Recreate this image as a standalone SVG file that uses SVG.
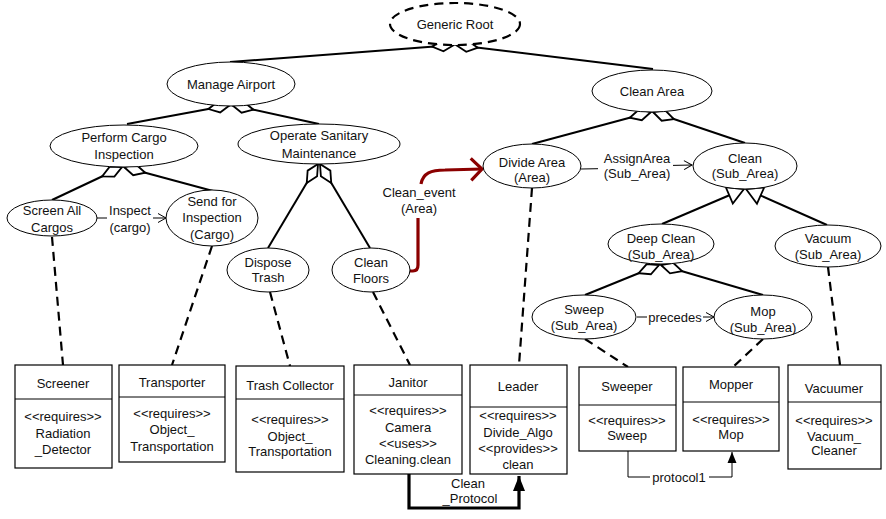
<svg xmlns="http://www.w3.org/2000/svg" width="886" height="519" viewBox="0 0 886 519">
<style>
text{font-family:"Liberation Sans",Arial,sans-serif;font-size:13px;fill:#111;text-anchor:middle}
.el{fill:#fff;stroke:#000;stroke-width:1}
.box{fill:#fff;stroke:#000;stroke-width:1.2}
.comp{fill:none;stroke:#000;stroke-width:2;marker-end:url(#dia)}
.gen{fill:none;stroke:#000;stroke-width:2;marker-end:url(#tri)}
.dash{fill:none;stroke:#000;stroke-width:2.2;stroke-dasharray:9 6}
.thin{fill:none;stroke:#000;stroke-width:1}
</style>
<defs>
<marker id="dia" markerUnits="userSpaceOnUse" viewBox="-24 -8 26 16" markerWidth="26" markerHeight="16" refX="0" refY="0" orient="auto" overflow="visible">
<path d="M0,0 L-11,-5.5 L-22,0 L-11,5.5 Z" fill="#fff" stroke="#000" stroke-width="1.8"/>
</marker>
<marker id="tri" markerUnits="userSpaceOnUse" viewBox="-18 -10 20 20" markerWidth="20" markerHeight="20" refX="0" refY="0" orient="auto" overflow="visible">
<path d="M0,0 L-16,-9 L-16,9 Z" fill="#fff" stroke="#000" stroke-width="1.8"/>
</marker>
<marker id="open" markerUnits="userSpaceOnUse" viewBox="-10 -6 12 12" markerWidth="12" markerHeight="12" refX="0" refY="0" orient="auto" overflow="visible">
<path d="M-8,-4.5 L0,0 L-8,4.5" fill="none" stroke="#000" stroke-width="1"/>
</marker>
<marker id="red" markerUnits="userSpaceOnUse" viewBox="-14 -12 16 24" markerWidth="16" markerHeight="24" refX="0" refY="0" orient="auto" overflow="visible">
<path d="M-11,-11 L0,0 L-11,11" fill="none" stroke="#8b0000" stroke-width="3.2"/>
</marker>
<marker id="fill" markerUnits="userSpaceOnUse" viewBox="-16 -7 18 14" markerWidth="18" markerHeight="14" refX="0" refY="0" orient="auto" overflow="visible">
<path d="M0,0 L-15,-6 L-15,6 Z" fill="#000"/>
</marker>
<marker id="fills" markerUnits="userSpaceOnUse" viewBox="-12 -6 14 12" markerWidth="14" markerHeight="12" refX="0" refY="0" orient="auto" overflow="visible">
<path d="M0,0 L-11,-4.5 L-11,4.5 Z" fill="#000"/>
</marker>
</defs>

<g id="connectors">
<path class="comp" d="M230,62 L454,45"/>
<path class="comp" d="M653,69 L456,45"/>
<path class="comp" d="M127,124 L230,105"/>
<path class="comp" d="M319,124 L232,105"/>
<path class="comp" d="M52,200 L122,167"/>
<path class="comp" d="M213,191 L124,167"/>
<path class="comp" d="M268,248 L318,164"/>
<path class="comp" d="M370,248 L320,164"/>
<path class="comp" d="M532,144 L651,112"/>
<path class="comp" d="M745,143 L653,112"/>
<path class="comp" d="M585,295 L659,265"/>
<path class="comp" d="M763,295 L661,265"/>
<path class="gen" d="M662,224 L744,189"/>
<path class="gen" d="M827,225 L746,189"/>

<path class="dash" d="M52,237 L63,365"/>
<path class="dash" d="M212,246 L172,365"/>
<path class="dash" d="M270,292 L290,366"/>
<path class="dash" d="M373,292 L410,365"/>
<path class="dash" d="M532,188 L519,365"/>
<path class="dash" d="M585,339 L628,367"/>
<path class="dash" d="M763,339 L733,367"/>
<path class="dash" d="M828,267 L840,365"/>

<path class="thin" d="M97,218 L107,218"/>
<path class="thin" d="M153,218 L166,218" marker-end="url(#open)"/>
<text x="130" y="215">Inspect</text>
<text x="130" y="232">(cargo)</text>

<path class="thin" d="M581,169 L598,168.7"/>
<path class="thin" d="M673,165.4 L692,165" marker-end="url(#open)"/>
<text x="637" y="163">AssignArea</text>
<text x="637" y="178">(Sub_Area)</text>

<path class="thin" d="M637,317 L647,317"/>
<path class="thin" d="M703,317 L714,317" marker-end="url(#open)"/>
<text x="675" y="322">precedes</text>

<path d="M410,271 L413,271 Q418,271 418,265 L418,218" fill="none" stroke="#8b0000" stroke-width="3.2"/>
<path d="M421,184 C423,173 431,170 445,170 L482,169" fill="none" stroke="#8b0000" stroke-width="3.2" marker-end="url(#red)"/>
<text x="419" y="197">Clean_event</text>
<text x="419" y="213">(Area)</text>

<path d="M409,474 L409,508 L519,508 L519,476" fill="none" stroke="#000" stroke-width="3.2" marker-end="url(#fill)"/>
<text x="468" y="488">Clean</text>
<text x="470" y="503">_Protocol</text>

<path class="thin" d="M628,451 L628,477 L650,477"/>
<path class="thin" d="M709,477 L732,477 L732,452" marker-end="url(#fills)"/>
<text x="679" y="482">protocol1</text>
</g>

<g id="generic-root">
<ellipse cx="455" cy="24" rx="65" ry="21" fill="#fff" stroke="#000" stroke-width="2.2" stroke-dasharray="9 6"/>
<text x="455" y="29">Generic Root</text>
</g>
<g id="manage-airport">
<ellipse class="el" cx="231" cy="84" rx="64" ry="22"/>
<text x="231" y="89">Manage Airport</text>
</g>
<g id="clean-area">
<ellipse class="el" cx="652" cy="91" rx="60" ry="21"/>
<text x="652" y="96">Clean Area</text>
</g>
<g id="perform-cargo">
<ellipse class="el" cx="124" cy="146" rx="74" ry="21"/>
<text x="124" y="142">Perform Cargo</text>
<text x="124" y="159">Inspection</text>
</g>
<g id="operate-sanitary">
<ellipse class="el" cx="319" cy="144" rx="81" ry="20"/>
<text x="319" y="140">Operate Sanitary</text>
<text x="319" y="158">Maintenance</text>
</g>
<g id="screen-all">
<ellipse class="el" cx="52" cy="218" rx="45" ry="18"/>
<text x="52" y="215">Screen All</text>
<text x="52" y="232">Cargos</text>
</g>
<g id="send-inspection">
<ellipse class="el" cx="212" cy="218" rx="46" ry="28"/>
<text x="212" y="206">Send for</text>
<text x="212" y="222">Inspection</text>
<text x="212" y="239">(Cargo)</text>
</g>
<g id="dispose-trash">
<ellipse class="el" cx="268" cy="270" rx="41" ry="22"/>
<text x="268" y="267">Dispose</text>
<text x="268" y="282">Trash</text>
</g>
<g id="clean-floors">
<ellipse class="el" cx="371" cy="270" rx="39" ry="22"/>
<text x="371" y="267">Clean</text>
<text x="371" y="283">Floors</text>
</g>
<g id="divide-area">
<ellipse class="el" cx="532" cy="166" rx="49" ry="22"/>
<text x="532" y="167">Divide Area</text>
<text x="532" y="182">(Area)</text>
</g>
<g id="clean-sub">
<ellipse class="el" cx="745" cy="166" rx="52" ry="23"/>
<text x="745" y="163">Clean</text>
<text x="745" y="178">(Sub_Area)</text>
</g>
<g id="deep-clean">
<ellipse class="el" cx="661" cy="244" rx="53" ry="20"/>
<text x="661" y="243">Deep Clean</text>
<text x="661" y="259">(Sub_Area)</text>
</g>
<g id="vacuum">
<ellipse class="el" cx="828" cy="246" rx="53" ry="21"/>
<text x="828" y="243">Vacuum</text>
<text x="828" y="259">(Sub_Area)</text>
</g>
<g id="sweep">
<ellipse class="el" cx="584" cy="317" rx="52" ry="22"/>
<text x="584" y="314">Sweep</text>
<text x="584" y="330">(Sub_Area)</text>
</g>
<g id="mop">
<ellipse class="el" cx="763" cy="317" rx="49" ry="22"/>
<text x="763" y="316">Mop</text>
<text x="763" y="332">(Sub_Area)</text>
</g>

<g id="screener">
<rect class="box" x="15" y="365" width="97" height="103"/>
<line class="thin" x1="15" y1="399" x2="112" y2="399"/>
<text x="63" y="388">Screener</text>
<text x="63" y="421">&lt;&lt;requires&gt;&gt;</text>
<text x="63" y="438">Radiation</text>
<text x="63" y="454">_Detector</text>
</g>
<g id="transporter">
<rect class="box" x="119" y="365" width="106" height="97"/>
<line class="thin" x1="119" y1="397" x2="225" y2="397"/>
<text x="172" y="387">Transporter</text>
<text x="172" y="418">&lt;&lt;requires&gt;&gt;</text>
<text x="172" y="434">Object_</text>
<text x="172" y="451">Transportation</text>
</g>
<g id="trash-collector">
<rect class="box" x="236" y="366" width="108" height="106"/>
<line class="thin" x1="236" y1="399" x2="344" y2="399"/>
<text x="290" y="390">Trash Collector</text>
<text x="290" y="424">&lt;&lt;requires&gt;&gt;</text>
<text x="290" y="441">Object_</text>
<text x="290" y="456">Transportation</text>
</g>
<g id="janitor">
<rect class="box" x="354" y="365" width="108" height="109"/>
<line class="thin" x1="354" y1="395" x2="462" y2="395"/>
<text x="408" y="387">Janitor</text>
<text x="408" y="415">&lt;&lt;requires&gt;&gt;</text>
<text x="408" y="432">Camera</text>
<text x="408" y="448">&lt;&lt;uses&gt;&gt;</text>
<text x="408" y="464">Cleaning.clean</text>
</g>
<g id="leader">
<rect class="box" x="470" y="365" width="97" height="109"/>
<line class="thin" x1="470" y1="407" x2="567" y2="407"/>
<text x="518" y="391">Leader</text>
<text x="518" y="420">&lt;&lt;requires&gt;&gt;</text>
<text x="518" y="437">Divide_Algo</text>
<text x="518" y="453">&lt;&lt;provides&gt;&gt;</text>
<text x="518" y="469">clean</text>
</g>
<g id="sweeper">
<rect class="box" x="579" y="367" width="97" height="84"/>
<line class="thin" x1="579" y1="405" x2="676" y2="405"/>
<text x="627" y="391">Sweeper</text>
<text x="627" y="425">&lt;&lt;requires&gt;&gt;</text>
<text x="627" y="440">Sweep</text>
</g>
<g id="mopper">
<rect class="box" x="683" y="367" width="96" height="84"/>
<line class="thin" x1="683" y1="402" x2="779" y2="402"/>
<text x="731" y="389">Mopper</text>
<text x="731" y="424">&lt;&lt;requires&gt;&gt;</text>
<text x="731" y="439">Mop</text>
</g>
<g id="vacuumer">
<rect class="box" x="788" y="365" width="93" height="104"/>
<line class="thin" x1="788" y1="402" x2="881" y2="402"/>
<text x="834" y="393">Vacuumer</text>
<text x="834" y="425">&lt;&lt;requires&gt;&gt;</text>
<text x="834" y="441">Vacuum_</text>
<text x="834" y="455">Cleaner</text>
</g>
</svg>
